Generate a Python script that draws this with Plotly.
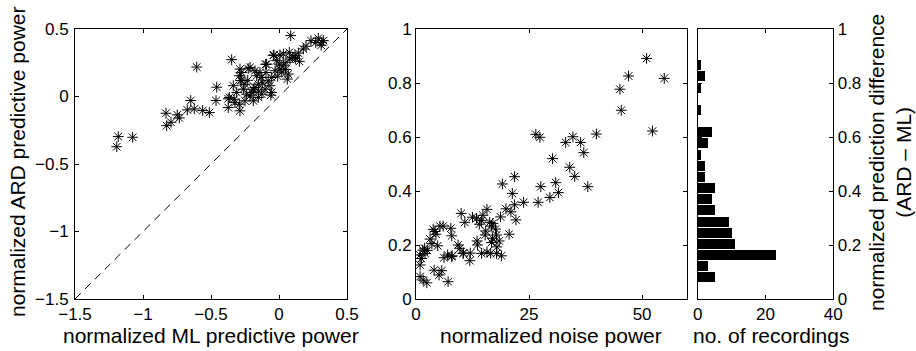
import plotly.graph_objects as go

# ---------------- data ----------------
# left panel: normalized ML predictive power (x) vs normalized ARD predictive power (y)
ml_power = [-1.182, -1.076, -1.193, -0.605, -0.831, -0.826, -0.794, -0.748, -0.733, -0.674,
            -0.649, -0.623, -0.561, -0.512, -0.458, -0.463,
            0.086, 0.289, 0.314, 0.326, 0.235, 0.199, 0.179, 0.142, 0.118, 0.076,
            0.032, 0.007, -0.037, 0.081, 0.051, 0.032, 0.068, 0.061, 0.007, -0.029,
            -0.091, -0.054, -0.066, -0.103, -0.127, -0.152, -0.213, -0.287, -0.292, -0.274,
            -0.348, -0.336, -0.365, -0.373, -0.287, -0.292, -0.250, -0.213, -0.189, -0.164,
            -0.140, -0.152, -0.189, -0.238, -0.324, -0.096, -0.079, -0.127, -0.017, 0.002,
            -0.054, -0.262, -0.311, -0.177, -0.274, -0.177, -0.098, -0.042, 0.310, 0.270,
            -0.282, -0.226, -0.373, 0.100, 0.150, -0.120, -0.200, -0.230, 0.020, -0.010,
            0.120, -0.150, 0.050, -0.060, -0.330, -0.250]
ard_power = [-0.297, -0.302, -0.372, 0.218, -0.124, -0.216, -0.191, -0.136, -0.159, -0.099,
             -0.030, -0.092, -0.104, -0.119, 0.069, -0.030,
             0.451, 0.431, 0.401, 0.414, 0.414, 0.372, 0.352, 0.322, 0.303, 0.327,
             0.315, 0.307, 0.307, 0.277, 0.253, 0.228, 0.166, 0.129, 0.203, 0.191,
             0.240, 0.141, 0.080, 0.054, 0.017, -0.007, 0.216, 0.203, 0.154, 0.117,
             0.273, 0.080, -0.007, -0.082, -0.106, -0.057, -0.032, 0.005, 0.054, 0.154,
             0.178, 0.091, -0.032, 0.017, -0.045, 0.178, 0.117, 0.141, 0.265, 0.240,
             0.030, 0.054, 0.030, 0.067, 0.178, 0.191, 0.238, 0.305, 0.380, 0.400,
             0.119, 0.206, -0.017, 0.290, 0.260, 0.100, 0.030, 0.120, 0.180, 0.150,
             0.280, 0.040, 0.200, 0.010, -0.020, 0.090]
diag = [-1.5, 0.5]

# middle panel: normalized noise power (x) vs normalized prediction difference (y)
noise_power = [51.0, 47.0, 54.9, 45.1, 45.4, 52.3, 26.5, 27.4, 39.9, 34.7,
               33.1, 36.4, 37.1, 30.2, 34.0, 35.1, 21.8, 19.1, 30.9, 27.6,
               38.0, 31.5, 29.6, 27.0, 23.8, 21.8, 21.3, 19.9, 15.7, 10.0,
               18.7, 22.1, 21.0, 12.5, 13.4, 14.5, 10.8, 16.3, 16.7, 17.6,
               15.4, 14.0, 5.3, 7.7, 3.8, 4.4, 7.9, 15.3, 17.8, 20.6,
               16.9, 13.5, 3.1, 3.5, 4.8, 13.6, 16.7, 18.4, 17.9, 9.3,
               9.7, 1.9, 1.5, 2.0, 0.9, 14.5, 15.7, 16.5, 17.8, 18.9,
               10.4, 7.0, 7.9, 6.2, 11.9, 0.9, 4.0, 5.7, 5.1, 0.9,
               1.6, 2.4, 7.1, 2.5, 1.2, 10.5, 8.0, 14.8, 17.0, 6.0,
               4.2, 12.0]
pred_diff = [0.891, 0.826, 0.817, 0.777, 0.699, 0.622, 0.610, 0.599, 0.611, 0.601,
             0.580, 0.580, 0.542, 0.520, 0.488, 0.454, 0.453, 0.426, 0.431, 0.416,
             0.416, 0.394, 0.376, 0.358, 0.358, 0.349, 0.391, 0.334, 0.332, 0.317,
             0.304, 0.293, 0.323, 0.303, 0.299, 0.290, 0.284, 0.284, 0.270, 0.259,
             0.252, 0.277, 0.270, 0.262, 0.258, 0.240, 0.234, 0.237, 0.237, 0.240,
             0.225, 0.215, 0.222, 0.205, 0.197, 0.200, 0.209, 0.215, 0.193, 0.200,
             0.188, 0.188, 0.181, 0.169, 0.163, 0.169, 0.173, 0.169, 0.169, 0.160,
             0.169, 0.163, 0.157, 0.153, 0.142, 0.126, 0.107, 0.105, 0.089, 0.083,
             0.070, 0.060, 0.064, 0.180, 0.150, 0.170, 0.160, 0.310, 0.280, 0.270,
             0.250, 0.170]

# right panel: histogram of prediction difference
bin_centers = [0.080, 0.121, 0.163, 0.204, 0.245, 0.287, 0.328, 0.370, 0.411, 0.452,
               0.494, 0.535, 0.576, 0.618, 0.659, 0.700, 0.742, 0.783, 0.825, 0.866]
counts = [5, 3, 23, 11, 10, 9, 5, 4, 5, 2, 2, 1, 3, 4, 0, 1, 0, 1, 2, 1]

left_xticks = [-1.5, -1, -0.5, 0, 0.5]
left_yticks = [-1.5, -1, -0.5, 0, 0.5]
mid_xticks = [0, 25, 50]
mid_yticks = [0, 0.2, 0.4, 0.6, 0.8, 1]
hist_xticks = [0, 20, 40]

# ---------------- layout ----------------
W, H = 916, 351
FONT = "Liberation Sans, Arial, sans-serif"
TICKF = dict(family=FONT, size=17, color="black")
TITF = dict(family=FONT, size=21, color="black")

def px(x):
    return x / W

def py(y):
    return 1 - y / H

ydom = [py(299), py(29)]

fig = go.Figure()

star = dict(symbol="asterisk-open", size=9, color="black",
            line=dict(color="black", width=1))

fig.add_trace(go.Scatter(x=diag, y=diag, mode="lines",
                         line=dict(color="black", width=1, dash="8px,6px"),
                         xaxis="x", yaxis="y", showlegend=False, hoverinfo="skip"))
fig.add_trace(go.Scatter(x=ml_power, y=ard_power, mode="markers", marker=star,
                         xaxis="x", yaxis="y", showlegend=False))
fig.add_trace(go.Scatter(x=noise_power, y=pred_diff, mode="markers", marker=star,
                         xaxis="x2", yaxis="y2", showlegend=False))
fig.add_trace(go.Bar(x=counts, y=bin_centers, orientation="h", width=0.037,
                     marker=dict(color="black", line=dict(width=0)),
                     xaxis="x3", yaxis="y3", showlegend=False))

axcommon = dict(showgrid=False, zeroline=False, showline=True, linecolor="black",
                linewidth=1, mirror="ticks", ticks="inside", ticklen=4,
                tickcolor="black", tickfont=TICKF, automargin=False)

fig.update_layout(
    width=W, height=H,
    margin=dict(l=0, r=0, t=0, b=0),
    paper_bgcolor="white", plot_bgcolor="white",
    xaxis=dict(domain=[px(75), px(347)], range=[-1.5, 0.5], tickvals=left_xticks,
               anchor="y", ticklabelstandoff=0, **axcommon),
    yaxis=dict(domain=ydom, range=[-1.5, 0.5], tickvals=left_yticks,
               anchor="x", ticklabelstandoff=2, **axcommon),
    xaxis2=dict(domain=[px(416), px(687.3)], range=[0, 60], tickvals=mid_xticks,
                anchor="y2", ticklabelstandoff=0, **axcommon),
    yaxis2=dict(domain=ydom, range=[0, 1], tickvals=mid_yticks,
                anchor="x2", ticklabelstandoff=0, **axcommon),
    xaxis3=dict(domain=[px(697.7), px(833.3)], range=[0, 40], tickvals=hist_xticks,
                anchor="y3", ticklabelstandoff=0, **axcommon),
    yaxis3=dict(domain=ydom, range=[0, 1], tickvals=mid_yticks, side="right",
                anchor="x3", ticklabelstandoff=0, **axcommon),
    bargap=0,
)

annots = [
    dict(text="normalized ML predictive power", x=px(211), y=py(335)),
    dict(text="normalized ARD predictive power", x=px(17), y=py(162), textangle=-90),
    dict(text="normalized noise power", x=px(551), y=py(335)),
    dict(text="no. of recordings", x=px(771), y=py(335)),
    dict(text="normalized prediction difference<br>(ARD – ML)", x=px(890), y=py(163),
         textangle=-90),
]
for a in annots:
    fig.add_annotation(xref="paper", yref="paper", showarrow=False,
                       xanchor="center", yanchor="middle", font=TITF, **a)

fig.write_html("out.html")
